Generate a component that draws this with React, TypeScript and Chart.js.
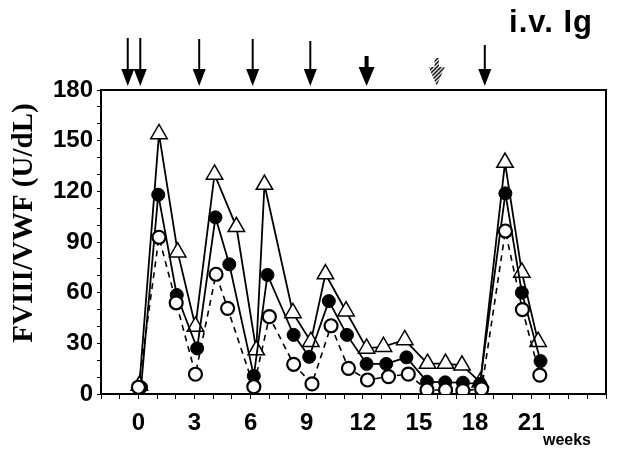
import React, { useEffect, useRef } from "react";
import { Chart, registerables } from "chart.js";

Chart.register(...registerables);

// ---- data ----
const triWeeks = [0.05, 1.1, 2.1, 3.05, 4.07, 5.24, 6.3, 6.74, 8.26, 9.22, 10.0, 11.1, 12.2, 13.1, 14.24, 15.46, 16.42, 17.3, 18.28, 19.6, 20.5, 21.37];
const triValues = [5, 154, 84, 40, 130, 99, 26, 124, 48, 31, 71, 49, 27, 28, 32, 18, 18, 17, 7, 137, 72, 31];

const fillWeeks = [0.14, 1.06, 2.05, 3.14, 4.12, 4.86, 6.17, 6.9, 8.3, 9.13, 10.18, 11.15, 12.2, 13.25, 14.33, 15.43, 16.4, 17.35, 18.26, 19.62, 20.5, 21.5];
const fillValues = [4, 118, 58.6, 27, 104.6, 76.8, 10.7, 70.5, 35, 22, 55, 35, 17.8, 17.8, 21.7, 7.3, 6.9, 6.7, 5.9, 118.8, 60, 19.5];

const openWeeks = [0, 1.1, 2.02, 3.05, 4.15, 4.77, 6.17, 7.0, 8.3, 9.28, 10.3, 11.23, 12.25, 13.37, 14.43, 15.43, 16.42, 17.35, 18.35, 19.62, 20.53, 21.46];
const openValues = [4, 92.8, 54, 11.7, 70.9, 50.7, 4.3, 45.8, 17.6, 6, 40.4, 15.2, 8.3, 10.3, 11.8, 2.4, 2.4, 2, 3, 96.5, 50, 11.2];

const xTickLabels = [0, 3, 6, 9, 12, 15, 18, 21];
const yTickLabels = [0, 30, 60, 90, 120, 150, 180];

const arrowWeeks = [-0.57, 0.1, 3.25, 6.11, 9.19, 12.2, 15.95, 18.52];
const arrowKinds = ["thin", "thin", "thin", "thin", "thin", "thick", "hatched", "thin"];

const chartTitle = "i.v. Ig";
const yTitle = "FVIII/VWF (U/dL)";
const xUnit = "weeks";

// ---- styles ----
const ARROW_TOPS = [38, 38, 39, 39, 41, 56, 58, 45];
const ARROW_BOTTOM = 86;

function makeHatch(ctx: CanvasRenderingContext2D) {
  const c = document.createElement("canvas");
  c.width = 4;
  c.height = 4;
  const g = c.getContext("2d")!;
  g.fillStyle = "#ddd";
  g.fillRect(0, 0, 4, 4);
  g.strokeStyle = "#111";
  g.lineWidth = 1.3;
  g.beginPath();
  g.moveTo(0, 4);
  g.lineTo(4, 0);
  g.moveTo(-1, 1);
  g.lineTo(1, -1);
  g.moveTo(3, 5);
  g.lineTo(5, 3);
  g.stroke();
  return ctx.createPattern(c, "repeat");
}

const extrasPlugin = {
  id: "extras",
  afterDraw(chart: any) {
    const ctx: CanvasRenderingContext2D = chart.ctx;
    const { top, right, left, bottom } = chart.chartArea;
    const xs = chart.scales.x;
    ctx.save();
    // frame top and right
    ctx.strokeStyle = "#000";
    ctx.lineWidth = 2;
    ctx.beginPath();
    ctx.moveTo(left, top);
    ctx.lineTo(right, top);
    ctx.lineTo(right, bottom);
    ctx.stroke();

    // arrows
    arrowWeeks.forEach((w, i) => {
      const x = xs.getPixelForValue(w);
      const kind = arrowKinds[i];
      const yTop = ARROW_TOPS[i];
      const headH = kind === "thin" ? 17 : 19;
      const headW = kind === "thin" ? 6.5 : 8;
      const yHead = ARROW_BOTTOM - headH;
      if (kind === "hatched") {
        const pat = makeHatch(ctx);
        ctx.fillStyle = pat || "#888";
        ctx.beginPath();
        ctx.moveTo(x - 2.2, yTop);
        ctx.lineTo(x + 2.2, yTop);
        ctx.lineTo(x + 2.2, yHead);
        ctx.lineTo(x + headW, yHead);
        ctx.lineTo(x, ARROW_BOTTOM);
        ctx.lineTo(x - headW, yHead);
        ctx.lineTo(x - 2.2, yHead);
        ctx.closePath();
        ctx.fill();
      } else {
        ctx.strokeStyle = "#000";
        ctx.lineWidth = kind === "thick" ? 4 : 2;
        ctx.beginPath();
        ctx.moveTo(x, yTop);
        ctx.lineTo(x, yHead + 1);
        ctx.stroke();
        ctx.fillStyle = "#000";
        ctx.beginPath();
        ctx.moveTo(x - headW, yHead);
        ctx.lineTo(x + headW, yHead);
        ctx.lineTo(x, ARROW_BOTTOM);
        ctx.closePath();
        ctx.fill();
      }
    });

    // title
    ctx.fillStyle = "#000";
    ctx.font = 'bold 31px "Liberation Sans", Arial, sans-serif';
    (ctx as any).letterSpacing = "1px";
    ctx.textAlign = "right";
    ctx.textBaseline = "alphabetic";
    ctx.fillText(chartTitle, 593, 32);
    (ctx as any).letterSpacing = "0px";

    // x unit
    ctx.font = 'bold 16px "Liberation Sans", Arial, sans-serif';
    ctx.textAlign = "center";
    ctx.textBaseline = "middle";
    ctx.fillText(xUnit, 567, 441);

    // y title
    ctx.translate(25, 223);
    ctx.rotate(-Math.PI / 2);
    ctx.font = 'bold 29px "Liberation Serif", "Times New Roman", serif';
    ctx.textAlign = "center";
    ctx.textBaseline = "middle";
    ctx.fillText(yTitle, 0, 0);
    ctx.restore();
  },
};

export default function App() {
  const ref = useRef<HTMLCanvasElement | null>(null);
  useEffect(() => {
    document.body.style.margin = "0";
    const canvas = ref.current!;
    const tickFont = { family: '"Liberation Sans", Arial, sans-serif', size: 24, weight: "bold" as const };
    const chart = new Chart(canvas, {
      type: "line",
      data: {
        datasets: [
          {
            label: "open circles",
            data: openWeeks.map((w, i) => ({ x: w, y: openValues[i] })),
            borderColor: "#000",
            borderWidth: 1.6,
            borderDash: [6, 5],
            pointStyle: "circle",
            pointRadius: 6.5,
            pointBorderWidth: 2.2,
            pointBackgroundColor: "#fff",
            pointBorderColor: "#000",
            tension: 0,
          },
          {
            label: "filled circles",
            data: fillWeeks.map((w, i) => ({ x: w, y: fillValues[i] })),
            borderColor: "#000",
            borderWidth: 1.8,
            pointStyle: "circle",
            pointRadius: 6.5,
            pointBorderWidth: 1,
            pointBackgroundColor: "#000",
            pointBorderColor: "#000",
            tension: 0,
          },
          {
            label: "triangles",
            data: triWeeks.map((w, i) => ({ x: w, y: triValues[i] })),
            borderColor: "#000",
            borderWidth: 1.8,
            pointStyle: "triangle",
            pointRadius: 9.5,
            pointBorderWidth: 1.5,
            pointBackgroundColor: "#fff",
            pointBorderColor: "#000",
            tension: 0,
          },
        ],
      },
      options: {
        animation: false,
        responsive: false,
        events: [],
        layout: { padding: { top: 90, right: 1, left: 0, bottom: 0 } },
        plugins: { legend: { display: false }, tooltip: { enabled: false }, title: { display: false } },
        scales: {
          x: {
            type: "linear",
            min: -2,
            max: 25,
            afterFit: (s: any) => {
              s.height = 57;
            },
            ticks: {
              stepSize: 1,
              autoSkip: false,
              maxRotation: 0,
              font: tickFont,
              color: "#000",
              padding: 10,
              callback: (v: any) => (xTickLabels.includes(Number(v)) ? String(v) : ""),
            },
            grid: { drawOnChartArea: false, drawTicks: true, tickLength: 5, color: "#000", lineWidth: 1 },
            border: { display: true, color: "#000", width: 2 },
          },
          y: {
            type: "linear",
            min: 0,
            max: 180,
            afterFit: (s: any) => {
              s.width = 101;
            },
            ticks: {
              stepSize: 10,
              autoSkip: false,
              font: tickFont,
              color: "#000",
              padding: 4,
              callback: (v: any) => (yTickLabels.includes(Number(v)) ? String(v) : ""),
            },
            grid: { drawOnChartArea: false, drawTicks: true, tickLength: 4, color: "#000", lineWidth: 1 },
            border: { display: true, color: "#000", width: 2 },
          },
        },
      },
      plugins: [extrasPlugin],
    });
    return () => chart.destroy();
  }, []);
  return (
    <div style={{ position: "absolute", left: 0, top: 0, width: 617, height: 451, background: "#fff" }}>
      <canvas ref={ref} width={617} height={451} style={{ width: 617, height: 451, display: "block" }} />
    </div>
  );
}
